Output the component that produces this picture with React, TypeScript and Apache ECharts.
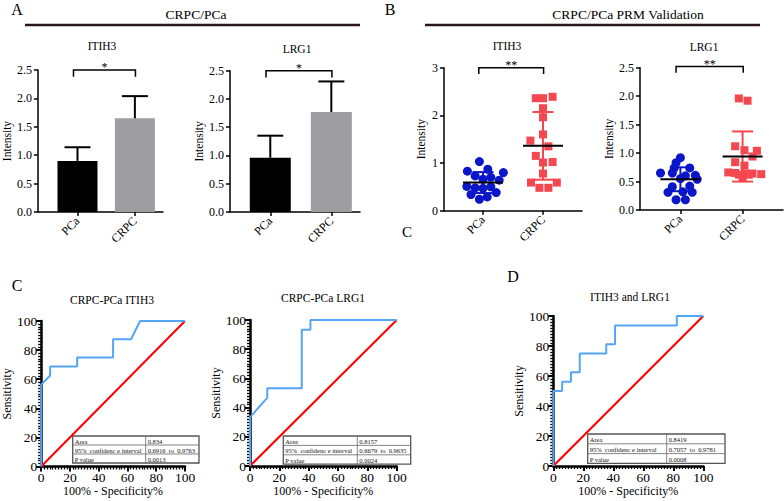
import React, { useEffect, useRef } from "react";
import * as echarts from "echarts";

const FONT = "Liberation Serif";
const BLUE = "#0B16C8";
const RED = "#F4474F";
const ROC_BLUE = "#55A5F7";

const groups = ["PCa", "CRPC"];

// Panel A: discovery cohort, mean with SD (upper bar)
const aItih3Mean = [0.9, 1.65];
const aItih3Sd = [0.24, 0.39];
const aLrg1Mean = [0.96, 1.77];
const aLrg1Sd = [0.39, 0.54];

// Panel B: PRM validation, individual samples
const bItih3PCa = [1.03, 0.83, 0.87, 0.8, 0.73, 0.66, 0.7, 0.64, 0.51, 0.48, 0.47, 0.5, 0.34, 0.38, 0.29, 0.24];
const bItih3PCaJitter = [-0.06, -0.26, 0.08, 0.34, -0.13, 0.0, 0.13, 0.27, -0.27, -0.13, 0.0, 0.13, -0.2, 0.22, 0.07, -0.06];
const bItih3CRPC = [2.36, 2.36, 2.39, 2.15, 1.96, 1.6, 1.47, 1.35, 1.15, 1.01, 1.02, 0.78, 0.59, 0.59, 0.48, 0.48];
const bItih3CRPCJitter = [-0.12, 0.0, 0.16, 0.0, 0.0, 0.0, -0.21, 0.09, -0.12, 0.0, 0.16, 0.0, -0.2, 0.23, -0.06, 0.09];
const bItih3Mean = [0.59, 1.36];
const bItih3Sd = [0.22, 0.71];

const bLrg1PCa = [0.92, 0.83, 0.74, 0.74, 0.65, 0.65, 0.61, 0.6, 0.54, 0.55, 0.41, 0.42, 0.31, 0.32, 0.31, 0.18, 0.18];
const bLrg1PCaJitter = [0.0, -0.07, 0.15, -0.1, -0.32, -0.13, 0.24, 0.08, 0.27, 0.0, -0.13, 0.15, -0.2, 0.04, 0.19, -0.07, 0.08];
const bLrg1CRPC = [1.96, 1.92, 1.12, 1.05, 1.04, 0.94, 0.84, 0.78, 0.66, 0.65, 0.64, 0.64, 0.63, 0.62, 0.56, 0.62];
const bLrg1CRPCJitter = [-0.06, 0.08, -0.12, 0.03, 0.23, 0.16, -0.12, 0.03, -0.23, -0.12, 0.04, 0.16, 0.3, -0.06, 0.0, 0.1];
const bLrg1Mean = [0.54, 0.94];
const bLrg1Sd = [0.21, 0.44];

// Panels C/D: ROC curves [100% - specificity, sensitivity]
const rocItih3 = [[0, 0], [0, 56.25], [6.25, 62.5], [6.25, 68.75], [25, 68.75], [25, 75], [50, 75], [50, 87.5], [62.5, 87.5], [68.75, 100], [100, 100]];
const rocLrg1 = [[0, 0], [0, 33.33], [11.76, 46.67], [11.76, 53.33], [35.29, 53.33], [35.29, 93.33], [41.18, 93.33], [41.18, 100], [100, 100]];
const rocCombined = [[0, 0], [0, 50], [5.88, 50], [5.88, 56.25], [11.76, 56.25], [11.76, 62.5], [17.65, 62.5], [17.65, 75], [35.29, 75], [35.29, 81.25], [41.18, 81.25], [41.18, 93.75], [82.35, 93.75], [82.35, 100], [100, 100]];
const rocReference = [[0, 0], [100, 100]];

const tableLabels = ["Area", "95%  confidenc e interval", "P value"];
const tableItih3 = ["0.834", "0.6916  to  0.9763", "0.0013"];
const tableLrg1 = ["0.8157", "0.6679  to  0.9635", "0.0024"];
const tableCombined = ["0.8419", "0.7057  to  0.9781", "0.0008"];

const txt = (text: string, x: number, y: number, fontSize: number, extra: any = {}) => ({
  type: "text",
  x,
  y,
  z: 100,
  style: { text, fontSize, fontFamily: FONT, fill: "#000", align: "center", verticalAlign: "middle", ...extra },
});

const hline = (x1: number, x2: number, y: number, w: number, color: string) => ({
  type: "line",
  z: 100,
  shape: { x1, y1: y, x2, y2: y },
  style: { stroke: color, lineWidth: w },
});

const makeTable = (x: number, y: number, w1: number, w2: number, rowH: number, values: string[]) => {
  const children: any[] = [];
  const w = w1 + w2;
  children.push({ type: "rect", shape: { x, y, width: w, height: rowH * 3 }, style: { fill: "#fff", stroke: "#555", lineWidth: 1.3 } });
  for (let r = 1; r < 3; r++) {
    children.push({ type: "line", shape: { x1: x, y1: y + r * rowH, x2: x + w, y2: y + r * rowH }, style: { stroke: "#666", lineWidth: 0.8 } });
  }
  children.push({ type: "line", shape: { x1: x + w1, y1: y, x2: x + w1, y2: y + rowH * 3 }, style: { stroke: "#666", lineWidth: 0.8 } });
  for (let r = 0; r < 3; r++) {
    children.push({ type: "text", x: x + 2, y: y + r * rowH + rowH / 2 + 0.5, style: { text: tableLabels[r], fontSize: 6.5, fontFamily: FONT, fill: "#111", align: "left", verticalAlign: "middle" } });
    children.push({ type: "text", x: x + w1 + 2, y: y + r * rowH + rowH / 2 + 0.5, style: { text: values[r], fontSize: 6.5, fontFamily: FONT, fill: "#111", align: "left", verticalAlign: "middle" } });
  }
  return { type: "group", z: 100, children };
};

const catAxis = (gridIndex: number, min: number, max: number) => ({
  type: "value",
  gridIndex,
  min,
  max,
  axisLine: { onZero: false, lineStyle: { color: "#000", width: 1.5 } },
  axisTick: { customValues: [0, 1], length: 4, lineStyle: { color: "#000", width: 1.5 } },
  axisLabel: {
    customValues: [0, 1],
    formatter: (v: number) => groups[Math.round(v)],
    rotate: 45,
    fontSize: 12,
    fontFamily: FONT,
    color: "#000",
    margin: 7,
  },
  splitLine: { show: false },
});

const valAxis = (gridIndex: number, max: number, interval: number, digits: number, nameGap: number) => ({
  type: "value",
  gridIndex,
  min: 0,
  max,
  interval,
  name: "Intensity",
  nameLocation: "middle",
  nameGap,
  nameTextStyle: { fontSize: 11.5, fontFamily: FONT, color: "#000" },
  axisLine: { show: true, onZero: false, lineStyle: { color: "#000", width: 1.5 } },
  axisTick: { show: true, length: 4, lineStyle: { color: "#000", width: 1.5 } },
  axisLabel: { formatter: (v: number) => v.toFixed(digits), fontSize: 12, fontFamily: FONT, color: "#000", margin: 6 },
  splitLine: { show: false },
});

const rocAxis = (gridIndex: number, isX: boolean, nameGap: number) => ({
  type: "value",
  gridIndex,
  min: 0,
  max: 100,
  interval: 20,
  name: isX ? "100% - Specificity%" : "Sensitivity",
  nameLocation: "middle",
  nameGap,
  nameTextStyle: { fontSize: 12, fontFamily: FONT, color: "#000" },
  axisLine: { show: true, onZero: false, lineStyle: { color: "#000", width: 2.5 } },
  axisTick: { show: true, length: 5, lineStyle: { color: "#000", width: 2 } },
  minorTick: { show: true, splitNumber: 10, length: 3, lineStyle: { color: "#000", width: 1.3 } },
  axisLabel: { fontSize: 13.5, fontFamily: FONT, color: "#000", margin: 4 },
  splitLine: { show: false },
  minorSplitLine: { show: false },
});

const errorBarSeries = (idx: number, means: number[], sds: number[]) => ({
  type: "custom",
  xAxisIndex: idx,
  yAxisIndex: idx,
  z: 5,
  silent: true,
  data: means.map((m, i) => [i, m, sds[i]]),
  renderItem: (_p: any, api: any) => {
    const x = api.value(0);
    const m = api.value(1);
    const s = api.value(2);
    const a = api.coord([x, m]);
    const b = api.coord([x, m + s]);
    return {
      type: "group",
      children: [
        { type: "line", shape: { x1: a[0], y1: a[1], x2: b[0], y2: b[1] }, style: { stroke: "#000", lineWidth: 2 } },
        { type: "line", shape: { x1: b[0] - 13, y1: b[1], x2: b[0] + 13, y2: b[1] }, style: { stroke: "#000", lineWidth: 2 } },
      ],
    };
  },
});

const bracketSeries = (idx: number, yTop: number, yEnd: number, label: string) => ({
  type: "custom",
  xAxisIndex: idx,
  yAxisIndex: idx,
  clip: false,
  silent: true,
  z: 6,
  data: [[-0.07, 1.01, yTop, yEnd]],
  renderItem: (_p: any, api: any) => {
    const l = api.coord([api.value(0), api.value(2)]);
    const r = api.coord([api.value(1), api.value(2)]);
    const e = api.coord([api.value(0), api.value(3)]);
    return {
      type: "group",
      children: [
        {
          type: "polyline",
          shape: { points: [[l[0], e[1]], [l[0], l[1]], [r[0], r[1]], [r[0], e[1]]] },
          style: { stroke: "#000", lineWidth: 1.5, fill: null },
        },
        {
          type: "text",
          x: (l[0] + r[0]) / 2,
          y: l[1] + 3,
          style: { text: label, fontSize: 12, fontFamily: FONT, fill: "#000", align: "center", verticalAlign: "bottom" },
        },
      ],
    };
  },
});

const meanSdSeries = (idx: number, means: number[], sds: number[]) => ({
  type: "custom",
  xAxisIndex: idx,
  yAxisIndex: idx,
  z: 5,
  silent: true,
  data: means.map((m, i) => [i, m, sds[i]]),
  renderItem: (_p: any, api: any) => {
    const i = api.value(0);
    const m = api.value(1);
    const s = api.value(2);
    const col = i === 0 ? BLUE : RED;
    const c = api.coord([i, m]);
    const t = api.coord([i, m + s]);
    const b = api.coord([i, m - s]);
    return {
      type: "group",
      children: [
        { type: "line", shape: { x1: t[0], y1: t[1], x2: b[0], y2: b[1] }, style: { stroke: col, lineWidth: 2 } },
        { type: "line", shape: { x1: t[0] - 10.5, y1: t[1], x2: t[0] + 10.5, y2: t[1] }, style: { stroke: col, lineWidth: 2 } },
        { type: "line", shape: { x1: b[0] - 10.5, y1: b[1], x2: b[0] + 10.5, y2: b[1] }, style: { stroke: col, lineWidth: 2 } },
        { type: "line", shape: { x1: c[0] - 20, y1: c[1], x2: c[0] + 20, y2: c[1] }, style: { stroke: "#000", lineWidth: 2 } },
      ],
    };
  },
});

const rocSeries = (idx: number, data: number[][]) => [
  {
    type: "line",
    xAxisIndex: idx,
    yAxisIndex: idx,
    data: rocReference,
    symbol: "none",
    silent: true,
    z: 3,
    lineStyle: { color: "#FF0000", width: 2 },
  },
  {
    type: "line",
    xAxisIndex: idx,
    yAxisIndex: idx,
    data,
    symbol: "none",
    silent: true,
    clip: false,
    z: 4,
    lineStyle: { color: ROC_BLUE, width: 2 },
  },
];

export default function App() {
  const ref = useRef<HTMLDivElement>(null);

  useEffect(() => {
    document.body.style.margin = "0";
    if (!ref.current) return;
    const chart = echarts.init(ref.current, null, { renderer: "svg" });

    const option: any = {
      animation: false,
      backgroundColor: "#fff",
      textStyle: { fontFamily: FONT },
      grid: [
        { left: 32, top: 70, width: 131, height: 142 },
        { left: 230, top: 70.7, width: 130, height: 141.3 },
        { left: 444, top: 67.7, width: 138, height: 143 },
        { left: 640, top: 67.7, width: 143, height: 142.3 },
        { left: 39.3, top: 321, width: 145.7, height: 145.5 },
        { left: 250, top: 320, width: 146.7, height: 146 },
        { left: 553.3, top: 316, width: 150, height: 150 },
      ],
      xAxis: [
        catAxis(0, -0.69, 1.49),
        catAxis(1, -0.66, 1.47),
        catAxis(2, -0.65, 1.65),
        catAxis(3, -0.65, 1.65),
        rocAxis(4, true, 9),
        rocAxis(5, true, 9),
        rocAxis(6, true, 10),
      ],
      yAxis: [
        valAxis(0, 2.5, 0.5, 1, 22),
        valAxis(1, 2.5, 0.5, 1, 23),
        valAxis(2, 3, 1, 0, 17),
        valAxis(3, 2.5, 0.5, 1, 23),
        rocAxis(4, false, 24),
        rocAxis(5, false, 23),
        rocAxis(6, false, 26),
      ],
      series: [
        {
          type: "bar",
          xAxisIndex: 0,
          yAxisIndex: 0,
          barWidth: 40,
          silent: true,
          data: aItih3Mean.map((m, i) => ({ value: [i, m], itemStyle: { color: i === 0 ? "#000" : "#9E9EA2" } })),
        },
        errorBarSeries(0, aItih3Mean, aItih3Sd),
        bracketSeries(0, 2.5, 2.38, "*"),
        {
          type: "bar",
          xAxisIndex: 1,
          yAxisIndex: 1,
          barWidth: 41,
          silent: true,
          data: aLrg1Mean.map((m, i) => ({ value: [i, m], itemStyle: { color: i === 0 ? "#000" : "#9E9EA2" } })),
        },
        errorBarSeries(1, aLrg1Mean, aLrg1Sd),
        bracketSeries(1, 2.5, 2.38, "*"),
        {
          type: "scatter",
          xAxisIndex: 2,
          yAxisIndex: 2,
          symbol: "circle",
          symbolSize: 9,
          silent: true,
          itemStyle: { color: BLUE, opacity: 1 },
          data: bItih3PCa.map((v, i) => [0 + bItih3PCaJitter[i], v]),
        },
        {
          type: "scatter",
          xAxisIndex: 2,
          yAxisIndex: 2,
          symbol: "rect",
          symbolSize: 8,
          silent: true,
          itemStyle: { color: RED, opacity: 1 },
          data: bItih3CRPC.map((v, i) => [1 + bItih3CRPCJitter[i], v]),
        },
        meanSdSeries(2, bItih3Mean, bItih3Sd),
        bracketSeries(2, 3.0, 2.87, "**"),
        {
          type: "scatter",
          xAxisIndex: 3,
          yAxisIndex: 3,
          symbol: "circle",
          symbolSize: 9,
          silent: true,
          itemStyle: { color: BLUE, opacity: 1 },
          data: bLrg1PCa.map((v, i) => [0 + bLrg1PCaJitter[i], v]),
        },
        {
          type: "scatter",
          xAxisIndex: 3,
          yAxisIndex: 3,
          symbol: "rect",
          symbolSize: 8,
          silent: true,
          itemStyle: { color: RED, opacity: 1 },
          data: bLrg1CRPC.map((v, i) => [1 + bLrg1CRPCJitter[i], v]),
        },
        meanSdSeries(3, bLrg1Mean, bLrg1Sd),
        bracketSeries(3, 2.52, 2.41, "**"),
        ...rocSeries(4, rocItih3),
        ...rocSeries(5, rocLrg1),
        ...rocSeries(6, rocCombined),
      ],
      graphic: [
        txt("A", 17, 9, 16),
        txt("B", 390, 9, 16),
        txt("C", 17, 285, 16),
        txt("D", 513, 276, 16),
        txt("C", 407, 232, 15),
        txt("CRPC/PCa", 196, 14, 13.5),
        hline(25, 360, 25, 2.5, "#2a1818"),
        txt("CRPC/PCa PRM Validation", 628, 14, 13.5),
        hline(425, 760, 25, 2.5, "#2a1818"),
        txt("ITIH3", 102, 46, 11.5),
        txt("LRG1", 297, 49, 11.5),
        txt("ITIH3", 507, 46, 11.5),
        txt("LRG1", 704, 47, 11.5),
        txt("CRPC-PCa ITIH3", 112, 300, 11.5),
        txt("CRPC-PCa LRG1", 323, 298, 11.5),
        txt("ITIH3 and LRG1", 630, 297, 11.5),
        makeTable(72.7, 436, 73, 53.3, 9, tableItih3),
        makeTable(283.3, 436, 74, 53.4, 9.4, tableLrg1),
        makeTable(587.7, 434, 79, 58.3, 9.8, tableCombined),
      ],
    };

    chart.setOption(option);
    return () => chart.dispose();
  }, []);

  return <div ref={ref} style={{ width: 784, height: 501 }} />;
}
